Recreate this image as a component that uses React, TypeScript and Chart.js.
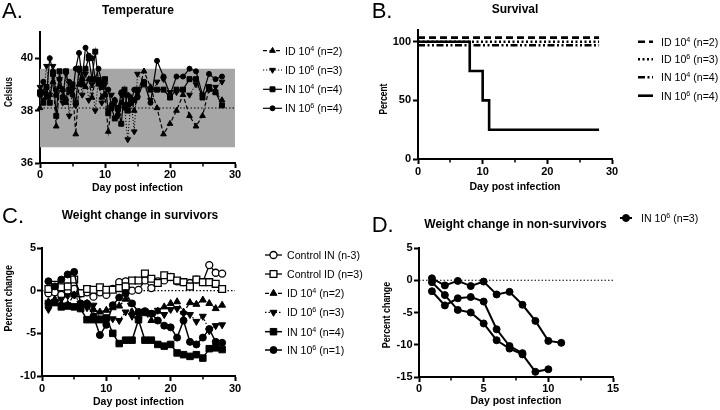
import React, { useEffect, useRef } from 'react';
import { Chart, registerables } from 'chart.js';

Chart.register(...registerables);

const SANS = '"Liberation Sans", Arial, Helvetica, sans-serif';
const BLACK = '#000000';
const BAND_GRAY = '#a6a6a6';
Chart.defaults.font.family = SANS;

// ---------------- Panel A: Temperature ----------------
const tempDays = [0, 0.5, 1, 1.5, 2, 2.5, 3, 3.5, 4, 4.5, 5, 5.5, 6, 6.5, 7, 7.5, 8, 8.5, 9, 9.5, 10, 10.5, 11, 11.5, 12, 12.5, 13, 13.5, 14, 14.5, 15, 16, 17, 18, 19, 20, 21, 22, 23, 24, 25, 26, 27, 28];
const tempID4 = [38.1, 38.7, 38.5, 38.6, 39.1, 37.4, 38.9, 38.8, 38.3, 38.7, 38.9, 37.1, 39.0, 39.2, 38.9, 39.2, 38.5, 39.2, 39.0, 38.5, 38.6, 37.2, 38.2, 38.4, 37.9, 38.3, 38.6, 38.2, 38.5, 38.0, 38.6, 39.5, 38.9, 38.1, 37.1, 37.5, 38.0, 38.6, 37.8, 37.4, 37.8, 38.8, 38.7, 38.4];
const tempID6 = [38.9, 38.4, 39.7, 38.6, 39.7, 38.8, 39.2, 38.3, 39.4, 37.8, 38.8, 38.2, 39.5, 38.6, 39.4, 38.4, 39.0, 38.0, 39.2, 38.3, 39.0, 38.0, 38.6, 38.3, 37.8, 38.6, 38.1, 36.9, 38.4, 37.2, 39.4, 39.1, 38.4, 39.1, 39.2, 38.7, 38.7, 38.8, 38.6, 39.0, 38.6, 38.8, 38.9, 39.1];
const tempIN4 = [38.7, 38.3, 38.9, 38.3, 39.4, 37.8, 39.5, 38.5, 39.5, 38.8, 39.0, 38.3, 39.6, 39.0, 39.6, 40.0, 39.2, 40.25, 39.1, 38.9, 39.2, 37.9, 38.1, 37.7, 38.1, 37.5, 38.8, 38.0, 38.3, 38.4, 38.8, 39.0, 38.8, 38.8, 38.8, 38.5, 38.8, 38.8, 39.2, 39.2, 38.5, 38.9, 38.7, 38.2];
const tempIN6 = [38.6, 39.1, 38.6, 40.0, 39.5, 38.6, 39.2, 38.8, 38.4, 39.1, 38.6, 39.6, 40.2, 39.2, 40.4, 40.1, 40.0, 39.2, 39.6, 39.1, 38.6, 38.8, 38.2, 38.4, 38.0, 38.7, 38.2, 38.6, 38.3, 38.8, 38.5, 39.1, 38.3, 39.9, 39.3, 38.6, 39.3, 39.3, 39.6, 39.5, 38.6, 39.4, 39.2, 39.3];
const tempBandDays = [0, 30];
const tempBandHigh = [39.6, 39.6];
const tempBandLow = [36.6, 36.6];
const tempBaselineDays = [0, 30];
const tempBaseline = [38.1, 38.1];
const tempXTicks = [0, 10, 20, 30];
const tempXMinor = [5, 15, 25];
const tempYTicks = [36, 38, 40];

// ---------------- Panel B: Survival ----------------
const survFlatDays = [0, 28];
const survID4 = [103.5, 103.5];
const survID6 = [100, 100];
const survIN4 = [97, 97];
const survIN6Days = [0, 8, 10, 11, 28];
const survIN6 = [100, 75, 50, 25, 25];
const survXTicks = [0, 10, 20, 30];
const survXMinor = [5, 15, 25];
const survYTicks = [0, 50, 100];

// ---------------- Panel C: Weight change in survivors ----------------
const weightDays = [1, 2, 3, 4, 5, 6, 7, 8, 9, 10, 11, 12, 13, 14, 15, 16, 17, 18, 19, 20, 21, 22, 23, 24, 25, 26, 27, 28];
const wCtrlIN = [-0.3, -0.2, -0.5, 0.0, 0.2, -0.3, -0.2, -0.7, -0.2, -0.5, 0.2, 1.0, 1.1, 0.0, 0.1, 1.2, 0.3, 1.1, 1.2, 1.6, 1.1, 1.0, 0.9, 1.3, 1.0, 3.0, 2.1, 2.0];
const wCtrlID = [0.2, 0.7, 0.4, 0.5, 1.3, -0.3, 0.2, 0.1, 0.4, 0.1, 0.1, 0.3, 0.5, 1.2, 1.2, 2.0, 1.4, 0.9, 1.8, 1.6, 1.2, 1.0, 0.5, 1.3, 1.0, 1.0, 0.8, 0.2];
const wID4 = [-1.3, -1.0, -1.5, -1.6, -0.5, -2.0, -1.5, -2.2, -2.5, -2.3, -2.0, -1.8, -1.0, -2.5, -3.0, -2.7, -3.5, -2.4, -1.9, -1.5, -1.3, -2.5, -1.4, -1.6, -1.1, -1.5, -2.1, -1.7];
const wID6 = [-2.2, -1.3, -1.0, -0.6, -0.5, -1.5, -2.0, -1.7, -3.2, -3.6, -3.3, -3.5, -2.5, -3.0, -3.4, -2.4, -2.6, -2.3, -2.8, -2.2, -2.1, -2.7, -2.8, -3.6, -3.0, -4.7, -4.1, -4.0];
const wIN4 = [-1.5, -1.4, -1.9, -1.8, -1.9, -2.1, -3.4, -3.4, -3.4, -3.2, -5.0, -6.2, -5.8, -5.8, -3.4, -5.8, -5.8, -6.3, -6.5, -6.3, -7.3, -7.5, -7.7, -7.5, -7.9, -6.8, -6.7, -6.9];
const wIN6 = [1.1, 0.5, 1.3, 1.9, 2.2, -1.5, -1.5, -3.0, -5.2, -4.0, -1.7, -0.8, -0.3, -1.5, -2.5, -2.4, -2.7, -3.5, -4.1, -4.3, -5.5, -3.5, -6.0, -6.3, -5.5, -4.5, -6.0, -6.1];
const weightZeroDays = [0, 30];
const weightZero = [0, 0];
const weightXTicks = [0, 10, 20, 30];
const weightXMinor = [5, 15, 25];
const weightYTicks = [-10, -5, 0, 5];

// ---------------- Panel D: Weight change in non-survivors ----------------
const ns1Days = [1, 2, 3, 4, 5, 6, 7, 8, 9, 10, 11];
const ns1 = [0.3, -0.8, -0.1, -0.9, -0.2, -2.2, -1.8, -3.8, -6.3, -9.4, -9.7];
const ns2Days = [1, 2, 3, 4, 5, 6, 7, 8, 9, 10];
const ns2 = [-0.3, -2.3, -4.6, -5.0, -6.7, -9.3, -10.6, -11.5, -14.2, -13.8];
const ns3Days = [1, 2, 3, 4, 5, 6, 7, 8];
const ns3 = [-1.7, -3.9, -2.8, -2.6, -3.3, -7.6, -10.2, -11.3];
const nsZeroDays = [0, 15];
const nsZero = [0, 0];
const nsXTicks = [0, 5, 10, 15];
const nsXMinor = [2.5, 7.5, 12.5];
const nsYTicks = [-15, -10, -5, 0, 5];

// ---------------- helpers ----------------
const pts = (xs: number[], ys: number[]) => xs.map((x, i) => ({ x, y: ys[i] }));

type Style = {
  lw: number; dash?: number[]; shape?: string; r?: number; rot?: number; open?: boolean; bw?: number; order?: number; stepped?: boolean; legend?: boolean;
};

function series(label: string, xs: number[], ys: number[], s: Style) {
  return {
    label,
    data: pts(xs, ys),
    borderColor: BLACK,
    borderWidth: s.lw,
    borderDash: s.dash || [],
    pointStyle: s.shape || 'circle',
    pointRadius: s.r || 0,
    pointRotation: s.rot || 0,
    pointBackgroundColor: s.open ? '#ffffff' : BLACK,
    pointBorderColor: BLACK,
    pointBorderWidth: s.bw ?? 1,
    fill: false,
    tension: 0,
    clip: false,
    order: s.order ?? 0,
    stepped: s.stepped || false,
    showInLegend: s.legend !== false,
  };
}

const SUP: Record<string, string> = { '⁰': '0', '¹': '1', '²': '2', '³': '3', '⁴': '4', '⁵': '5', '⁶': '6', '⁷': '7', '⁸': '8', '⁹': '9' };

function drawRich(ctx: CanvasRenderingContext2D, text: string, x: number, y: number, size: number, weight: string) {
  let cx = x;
  let run = '';
  const flush = () => {
    if (!run) return;
    ctx.font = `${weight} ${size}px ${SANS}`;
    ctx.fillText(run, cx, y);
    cx += ctx.measureText(run).width;
    run = '';
  };
  for (const ch of text) {
    if (SUP[ch]) {
      flush();
      ctx.font = `${weight} ${size * 0.68}px ${SANS}`;
      ctx.fillText(SUP[ch], cx, y - size * 0.36);
      cx += ctx.measureText(SUP[ch]).width;
    } else run += ch;
  }
  flush();
}

function drawMarker(ctx: CanvasRenderingContext2D, style: string, r: number, rot: number, x: number, y: number, fill: string, bw: number) {
  ctx.beginPath();
  if (style === 'rect') {
    const s = r * Math.SQRT1_2;
    ctx.rect(x - s, y - s, 2 * s, 2 * s);
  } else if (style === 'triangle') {
    let a = (rot * Math.PI) / 180;
    for (let k = 0; k < 3; k++) {
      const px = x + Math.sin(a) * r;
      const py = y - Math.cos(a) * r;
      if (k === 0) ctx.moveTo(px, py); else ctx.lineTo(px, py);
      a += (2 * Math.PI) / 3;
    }
    ctx.closePath();
  } else {
    ctx.arc(x, y, r, 0, Math.PI * 2);
  }
  ctx.fillStyle = fill;
  ctx.fill();
  ctx.lineWidth = bw;
  ctx.strokeStyle = BLACK;
  ctx.stroke();
}

type Decor = {
  letter: string; letterX: number; letterY: number;
  title: string; titleX: number; titleY: number;
  xTitle: string; xTitleX: number; xTitleY: number;
  yTitle: string; yTitleX: number; yTitleY: number; ySquash: number;
  xMinor: number[];
  legend: { x0: number; x1: number; textX: number; rows: number[] };
};

function decorPlugin(d: Decor) {
  return {
    id: 'decor',
    afterDraw(chart: any) {
      const ctx = chart.ctx as CanvasRenderingContext2D;
      const area = chart.chartArea;
      ctx.save();
      ctx.fillStyle = BLACK;
      ctx.textAlign = 'left';
      ctx.textBaseline = 'alphabetic';
      ctx.font = `22px ${SANS}`;
      ctx.fillText(d.letter, d.letterX, d.letterY);
      ctx.textAlign = 'center';
      ctx.font = `bold 12px ${SANS}`;
      ctx.fillText(d.title, d.titleX, d.titleY);
      ctx.font = `bold 10.5px ${SANS}`;
      ctx.fillText(d.xTitle, d.xTitleX, d.xTitleY);
      ctx.save();
      ctx.translate(d.yTitleX, d.yTitleY);
      ctx.rotate(-Math.PI / 2);
      ctx.scale(d.ySquash, 1);
      ctx.textBaseline = 'middle';
      ctx.fillText(d.yTitle, 0, 0);
      ctx.restore();

      // minor ticks on x axis
      const xs = chart.scales.x;
      ctx.strokeStyle = BLACK;
      ctx.lineWidth = 1.5;
      ctx.beginPath();
      for (const v of d.xMinor) {
        const px = Math.round(xs.getPixelForValue(v));
        ctx.moveTo(px, area.bottom);
        ctx.lineTo(px, area.bottom + 3.5);
      }
      ctx.stroke();

      // legend
      const items = chart.data.datasets.filter((ds: any) => ds.showInLegend);
      items.forEach((ds: any, i: number) => {
        const y = d.legend.rows[i];
        if (y === undefined) return;
        ctx.save();
        ctx.setLineDash(ds.borderDash || []);
        ctx.lineWidth = ds.borderWidth;
        ctx.strokeStyle = BLACK;
        ctx.beginPath();
        ctx.moveTo(d.legend.x0, y);
        ctx.lineTo(d.legend.x1, y);
        ctx.stroke();
        ctx.restore();
        if (ds.pointRadius > 0) {
          drawMarker(ctx, ds.pointStyle, ds.pointRadius, ds.pointRotation, (d.legend.x0 + d.legend.x1) / 2, y, ds.pointBackgroundColor, ds.pointBorderWidth);
        }
        ctx.fillStyle = BLACK;
        ctx.textAlign = 'left';
        ctx.textBaseline = 'alphabetic';
        drawRich(ctx, ds.label, d.legend.textX, y + 4, 10.6, 'normal');
      });
      ctx.restore();
    },
  };
}

type AxesOpt = {
  xMin: number; xMax: number; xTicks: number[]; yMin: number; yMax: number; yTicks: number[];
  yWidth: number; xHeight: number; xPad: number; yPad: number;
};

function makeScales(o: AxesOpt) {
  const tickFont = { family: SANS, size: 11, weight: 'bold' as const };
  const grid = { display: true, drawOnChartArea: false, drawTicks: true, tickLength: 5, tickWidth: 2, tickColor: BLACK, color: BLACK };
  const border = { display: true, color: BLACK, width: 2 };
  return {
    x: {
      type: 'linear', min: o.xMin, max: o.xMax, grid, border,
      ticks: { color: BLACK, font: tickFont, padding: o.xPad, maxRotation: 0, autoSkip: false },
      afterBuildTicks: (s: any) => { s.ticks = o.xTicks.map((v) => ({ value: v })); },
      afterFit: (s: any) => { s.height = o.xHeight; },
    },
    y: {
      type: 'linear', min: o.yMin, max: o.yMax, grid, border,
      ticks: { color: BLACK, font: tickFont, padding: o.yPad, autoSkip: false },
      afterBuildTicks: (s: any) => { s.ticks = o.yTicks.map((v) => ({ value: v })); },
      afterFit: (s: any) => { s.width = o.yWidth; },
    },
  };
}

function makeConfig(datasets: any[], scales: any, pad: { top: number; right: number }, decor: Decor) {
  return {
    type: 'line',
    data: { datasets },
    options: {
      responsive: false,
      animation: false,
      events: [],
      layout: { padding: { left: 0, top: pad.top, right: pad.right, bottom: 0 } },
      plugins: { legend: { display: false }, tooltip: { enabled: false }, title: { display: false } },
      scales,
    },
    plugins: [decorPlugin(decor)],
  } as any;
}

// ---------------- panel configs ----------------
function buildA() {
  const datasets = [
    series('ID 10⁴ (n=2)', tempDays, tempID4, { lw: 1.2, dash: [4, 2.5], shape: 'triangle', r: 3.3, order: 3 }),
    series('ID 10⁶ (n=3)', tempDays, tempID6, { lw: 1, dash: [1.2, 1.8], shape: 'triangle', r: 3.3, rot: 180, order: 2 }),
    series('IN 10⁴ (n=4)', tempDays, tempIN4, { lw: 1.2, shape: 'rect', r: 3.5, order: 1 }),
    series('IN 10⁶ (n=4)', tempDays, tempIN6, { lw: 1.2, shape: 'circle', r: 2.5, order: 0 }),
    series('', tempBaselineDays, tempBaseline, { lw: 1.2, dash: [1.5, 2], order: 10, legend: false }),
    { ...series('', tempBandDays, tempBandHigh, { lw: 1, order: 20, legend: false }), borderColor: 'rgba(0,0,0,0)', fill: '+1', backgroundColor: BAND_GRAY },
    { ...series('', tempBandDays, tempBandLow, { lw: 1, order: 21, legend: false }), borderColor: 'rgba(0,0,0,0)' },
  ];
  const scales = makeScales({ xMin: 0, xMax: 30, xTicks: tempXTicks, yMin: 36, yMax: 41, yTicks: tempYTicks, yWidth: 40, xHeight: 42, xPad: 0, yPad: 2 });
  return makeConfig(datasets, scales, { top: 32, right: 125 }, {
    letter: 'A.', letterX: 2, letterY: 17.5,
    title: 'Temperature', titleX: 138, titleY: 13.5,
    xTitle: 'Day post infection', xTitleX: 137.5, xTitleY: 190.8,
    yTitle: 'Celsius', yTitleX: 8.7, yTitleY: 92, ySquash: 0.8,
    xMinor: tempXMinor,
    legend: { x0: 263, x1: 282, textX: 285, rows: [50.7, 70, 89.3, 108.3] },
  });
}

function buildB() {
  const datasets = [
    series('ID 10⁴ (n=2)', survFlatDays, survID4, { lw: 2.6, dash: [7, 4] }),
    series('ID 10⁶ (n=3)', survFlatDays, survID6, { lw: 2.6, dash: [2, 2.5] }),
    series('IN 10⁴ (n=4)', survFlatDays, survIN4, { lw: 2.6, dash: [7, 2.5, 2, 2.5, 2, 2.5] }),
    series('IN 10⁶ (n=4)', survIN6Days, survIN6, { lw: 2.6, stepped: true }),
  ];
  const scales = makeScales({ xMin: 0, xMax: 30, xTicks: survXTicks, yMin: 0, yMax: 110, yTicks: survYTicks, yWidth: 58, xHeight: 46, xPad: 1.5, yPad: 2 });
  return makeConfig(datasets, scales, { top: 30, right: 108 }, {
    letter: 'B.', letterX: 11.7, letterY: 18.3,
    title: 'Survival', titleX: 155, titleY: 12.7,
    xTitle: 'Day post infection', xTitleX: 155, xTitleY: 190.2,
    yTitle: 'Percent', yTitleX: 24.2, yTitleY: 99, ySquash: 0.8,
    xMinor: survXMinor,
    legend: { x0: 278, x1: 293, textX: 301, rows: [41.7, 59.3, 77.3, 95.7] },
  });
}

function buildC() {
  const datasets = [
    series('Control IN (n-3)', weightDays, wCtrlIN, { lw: 1.3, shape: 'circle', r: 3.5, open: true, bw: 1.3, order: 5 }),
    series('Control ID (n=3)', weightDays, wCtrlID, { lw: 1.3, shape: 'rect', r: 4.8, open: true, bw: 1.3, order: 4 }),
    series('ID 10⁴ (n=2)', weightDays, wID4, { lw: 1.3, dash: [4, 2.5], shape: 'triangle', r: 4, order: 3 }),
    series('ID 10⁶ (n=3)', weightDays, wID6, { lw: 1.2, dash: [1.5, 2], shape: 'triangle', r: 4, rot: 180, order: 2 }),
    series('IN 10⁴ (n=4)', weightDays, wIN4, { lw: 1.5, shape: 'rect', r: 4.6, order: 1 }),
    series('IN 10⁶ (n=1)', weightDays, wIN6, { lw: 1.5, shape: 'circle', r: 3.5, order: 0 }),
    series('', weightZeroDays, weightZero, { lw: 1.2, dash: [1.5, 2], order: 10, legend: false }),
  ];
  const scales = makeScales({ xMin: 0, xMax: 30, xTicks: weightXTicks, yMin: -10, yMax: 5, yTicks: weightYTicks, yWidth: 42, xHeight: 34, xPad: 1, yPad: 1 });
  return makeConfig(datasets, scales, { top: 43, right: 145 }, {
    letter: 'C.', letterX: 2, letterY: 17.7,
    title: 'Weight change in survivors', titleX: 140, titleY: 14,
    xTitle: 'Day post infection', xTitleX: 138.5, xTitleY: 199.8,
    yTitle: 'Percent change', yTitleX: 9, yTitleY: 93.3, ySquash: 0.85,
    xMinor: weightXMinor,
    legend: { x0: 265, x1: 282, textX: 287, rows: [50, 69, 88.3, 107.3, 126.7, 145] },
  });
}

function buildD() {
  const datasets = [
    series('IN 10⁶ (n=3)', ns1Days, ns1, { lw: 2, shape: 'circle', r: 3.5 }),
    series('', ns2Days, ns2, { lw: 2, shape: 'circle', r: 3.5, legend: false }),
    series('', ns3Days, ns3, { lw: 2, shape: 'circle', r: 3.5, legend: false }),
    series('', nsZeroDays, nsZero, { lw: 1.2, dash: [1.5, 2], order: 10, legend: false }),
  ];
  const scales = makeScales({ xMin: 0, xMax: 15, xTicks: nsXTicks, yMin: -15, yMax: 5, yTicks: nsYTicks, yWidth: 59, xHeight: 33, xPad: 0, yPad: 1.5 });
  return makeConfig(datasets, scales, { top: 43, right: 107 }, {
    letter: 'D.', letterX: 11.7, letterY: 26.7,
    title: 'Weight change in non-survivors', titleX: 155.5, titleY: 23,
    xTitle: 'Day post infection', xTitleX: 156, xTitleY: 199.2,
    yTitle: 'Percent change', yTitleX: 26.7, yTitleY: 110, ySquash: 0.85,
    xMinor: nsXMinor,
    legend: { x0: 260, x1: 272, textX: 281, rows: [13] },
  });
}

function Panel({ left, top, width, height, build }: { left: number; top: number; width: number; height: number; build: () => any }) {
  const ref = useRef<HTMLCanvasElement>(null);
  useEffect(() => {
    const chart = new Chart(ref.current as HTMLCanvasElement, build());
    return () => chart.destroy();
  }, []);
  return (
    <canvas
      ref={ref}
      width={width}
      height={height}
      style={{ position: 'absolute', left, top, width, height }}
    />
  );
}

export default function App() {
  return (
    <div style={{ position: 'absolute', left: 0, top: 0, width: 720, height: 410, background: '#ffffff', overflow: 'hidden' }}>
      <Panel left={0} top={0} width={360} height={205} build={buildA} />
      <Panel left={360} top={0} width={360} height={205} build={buildB} />
      <Panel left={0} top={205} width={380} height={205} build={buildC} />
      <Panel left={360} top={205} width={360} height={205} build={buildD} />
    </div>
  );
}
